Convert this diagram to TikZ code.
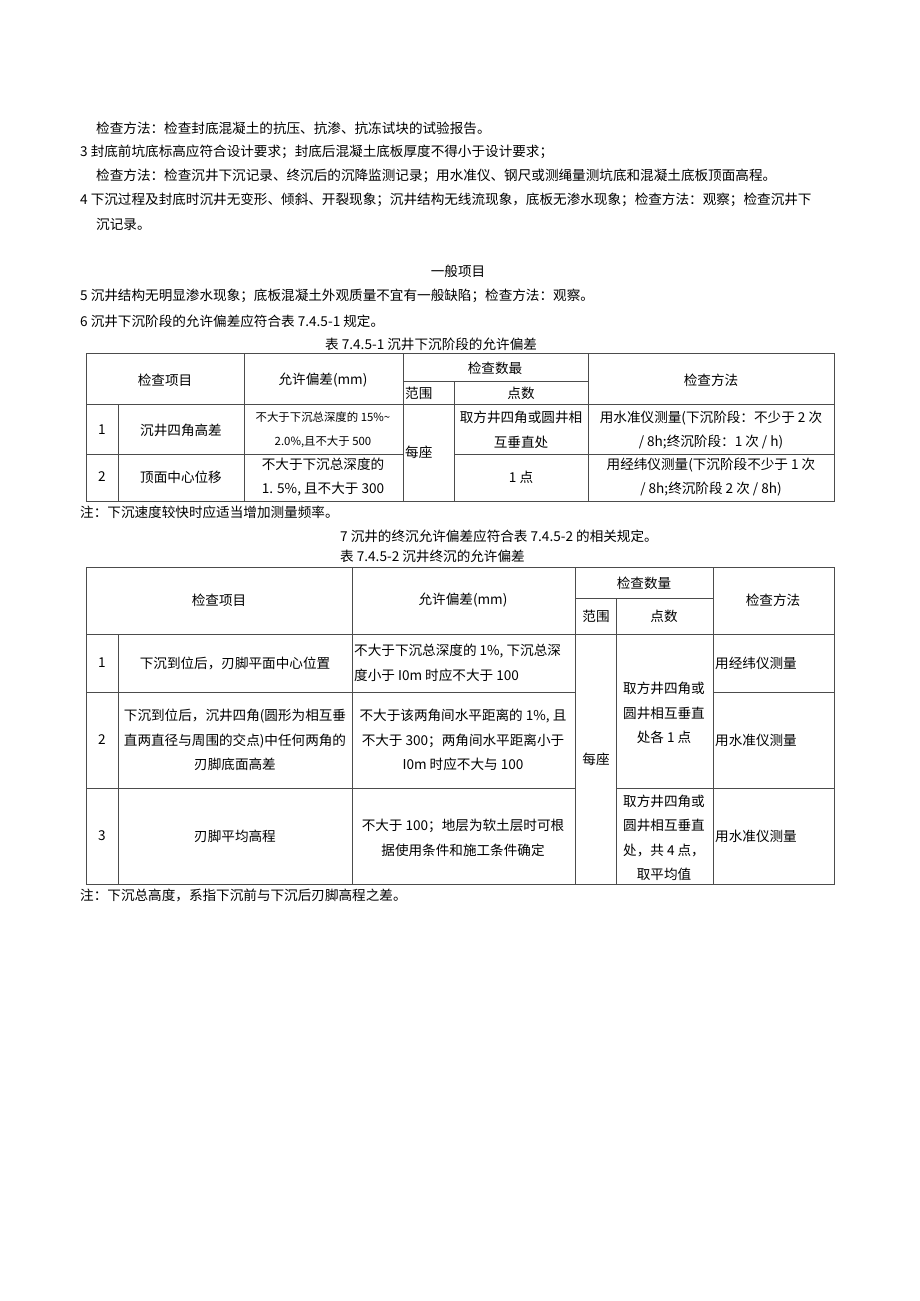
\documentclass[tikz,border=0pt]{standalone}
\usepackage{fontspec}
\setmainfont{Noto Sans CJK SC}
\usetikzlibrary{positioning}

\tikzset{
	txt/.style={inner sep=0pt, font=\fontsize{13.6}{24.5}\selectfont},
	cell/.style={txt, align=center},
	smallcell/.style={cell, font=\fontsize{11.4}{24.5}\selectfont},
	rule/.style={line width=0.9pt, draw=black!70}
}

\begin{document}
\begin{tikzpicture}[x=1pt,y=-1pt]

		\useasboundingbox (0,0) rectangle (920,1301);

		% texto superior
		\node[txt, anchor=west] (met1) at (96,128) {检查方法：检查封底混凝土的抗压、抗渗、抗冻试块的试验报告。};
		\node[txt, anchor=west] (item3) at (80,152) {3 封底前坑底标高应符合设计要求；封底后混凝土底板厚度不得小于设计要求；};
		\node[txt, anchor=west] (met3) at (96,176) {检查方法：检查沉井下沉记录、终沉后的沉降监测记录；用水准仪、钢尺或测绳量测坑底和混凝土底板顶面高程。};
		\node[txt, anchor=west] (item4) at (80,200) {4 下沉过程及封底时沉井无变形、倾斜、开裂现象；沉井结构无线流现象，底板无渗水现象；检查方法：观察；检查沉井下};
		\node[txt, anchor=west] (item4b) at (96,224) {沉记录。};

		\node[txt] (general) at (458,271) {一般项目};
		\node[txt, anchor=west] (item5) at (80,296) {5 沉井结构无明显渗水现象；底板混凝土外观质量不宜有一般缺陷；检查方法：观察。};
		\node[txt, anchor=west] (item6) at (80,321) {6 沉井下沉阶段的允许偏差应符合表 7.4.5-1 规定。};
		\node[txt, anchor=west] (cap1) at (325,344) {表 7.4.5-1 沉井下沉阶段的允许偏差};

		% tabla 1
		\draw[rule] (86,353) rectangle (834,501);
		\draw[rule] (86,404) -- (834,404);
		\draw[rule] (403,381) -- (588,381);
		\draw[rule] (86,454) -- (403,454);
		\draw[rule] (454,454) -- (834,454);
		\draw[rule] (118,404) -- (118,501);
		\draw[rule] (244,353) -- (244,501);
		\draw[rule] (403,353) -- (403,501);
		\draw[rule] (454,381) -- (454,501);
		\draw[rule] (588,353) -- (588,501);

		\node[cell] (ta-item) at (165,380) {检查项目};
		\node[cell] (ta-dev) at (323,380) {允许偏差(mm)};
		\node[cell] (ta-qty) at (495,368) {检查数最};
		\node[txt, anchor=west] (ta-range) at (405,393) {范围};
		\node[cell] (ta-pts) at (521,393) {点数};
		\node[cell] (ta-meth) at (711,380) {检查方法};

		\node[cell] (ta-n1) at (102,430) {1};
		\node[cell] (ta-i1) at (181,430) {沉井四角高差};
		\node[smallcell] (ta-d1) at (323,430) {不大于下沉总深度的 15\%\textasciitilde\\2.0\%,且不大于 500};
		\node[txt, anchor=west] (ta-r1) at (405,452) {每座};
		\node[cell] (ta-p1) at (521,430) {取方井四角或圆井相\\互垂直处};
		\node[cell] (ta-m1) at (711,430) {用水准仪测量(下沉阶段：不少于 2 次\\/ 8h;终沉阶段：1 次 / h)};

		\node[cell] (ta-n2) at (102,477) {2};
		\node[cell] (ta-i2) at (181,477) {顶面中心位移};
		\node[cell] (ta-d2) at (323,477) {不大于下沉总深度的\\1. 5\%, 且不大于 300};
		\node[cell] (ta-p2) at (521,477) {1 点};
		\node[cell] (ta-m2) at (711,477) {用经纬仪测量(下沉阶段不少于 1 次\\/ 8h;终沉阶段 2 次 / 8h)};

		\node[txt, anchor=west] (note1) at (80,512) {注：下沉速度较快时应适当增加测量频率。};
		\node[txt, anchor=west] (item7) at (340,536) {7 沉井的终沉允许偏差应符合表 7.4.5-2 的相关规定。};
		\node[txt, anchor=west] (cap2) at (340,556) {表 7.4.5-2 沉井终沉的允许偏差};

		% tabla 2
		\draw[rule] (86,567) rectangle (834,884);
		\draw[rule] (86,634) -- (834,634);
		\draw[rule] (575,598) -- (713,598);
		\draw[rule] (86,692) -- (575,692);
		\draw[rule] (713,692) -- (834,692);
		\draw[rule] (86,788) -- (575,788);
		\draw[rule] (616,788) -- (834,788);
		\draw[rule] (118,634) -- (118,884);
		\draw[rule] (352,567) -- (352,884);
		\draw[rule] (575,567) -- (575,884);
		\draw[rule] (616,598) -- (616,884);
		\draw[rule] (713,567) -- (713,884);

		\node[cell] (tb-item) at (219,600) {检查项目};
		\node[cell] (tb-dev) at (463,600) {允许偏差(mm)};
		\node[cell] (tb-qty) at (644,583) {检查数量};
		\node[cell] (tb-range) at (596,616) {范围};
		\node[cell] (tb-pts) at (664,616) {点数};
		\node[cell] (tb-meth) at (773,600) {检查方法};

		\node[cell] (tb-n1) at (102,663) {1};
		\node[cell] (tb-i1) at (235,663) {下沉到位后，刃脚平面中心位置};
		\node[txt, anchor=west, align=left] (tb-d1) at (354,663) {不大于下沉总深度的 1\%, 下沉总深\\度小于 I0m 时应不大于 100};
		\node[txt, anchor=west] (tb-m1) at (715,663) {用经纬仪测量};

		\node[cell] (tb-n2) at (102,740) {2};
		\node[cell] (tb-i2) at (235,740) {下沉到位后，沉井四角(圆形为相互垂\\直两直径与周围的交点)中任何两角的\\刃脚底面高差};
		\node[cell] (tb-d2) at (463,740) {不大于该两角间水平距离的 1\%, 且\\不大于 300；两角间水平距离小于\\I0m 时应不大与 100};
		\node[cell] (tb-p12) at (664,713) {取方井四角或\\圆井相互垂直\\处各 1 点};
		\node[txt, anchor=west] (tb-m2) at (715,740) {用水准仪测量};

		\node[cell] (tb-r) at (596,759) {每座};

		\node[cell] (tb-n3) at (102,836) {3};
		\node[cell] (tb-i3) at (235,836) {刃脚平均高程};
		\node[cell] (tb-d3) at (463,838) {不大于 100；地层为软土层时可根\\据使用条件和施工条件确定};
		\node[cell] (tb-p3) at (664,838) {取方井四角或\\圆井相互垂直\\处，共 4 点，\\取平均值};
		\node[txt, anchor=west] (tb-m3) at (715,836) {用水准仪测量};

		\node[txt, anchor=west] (note2) at (80,895) {注：下沉总高度，系指下沉前与下沉后刃脚高程之差。};

	\end{tikzpicture}
\end{document}
